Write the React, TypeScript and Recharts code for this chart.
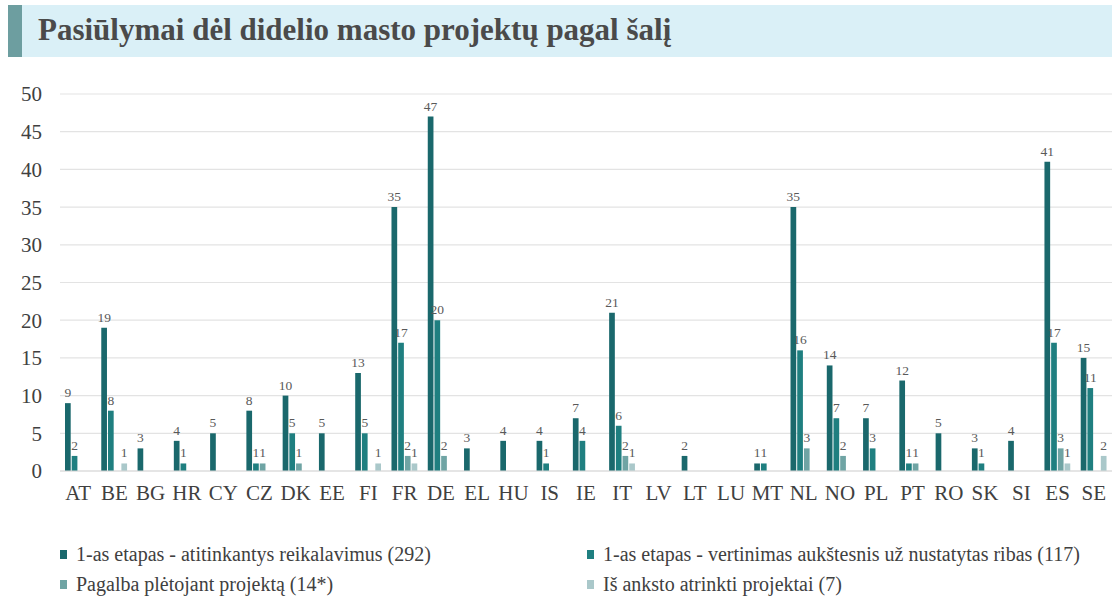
import React from "react";
import { BarChart, Bar, XAxis, YAxis, CartesianGrid, LabelList } from "recharts";

const countries = ["AT","BE","BG","HR","CY","CZ","DK","EE","FI","FR","DE","EL","HU","IS","IE","IT","LV","LT","LU","MT","NL","NO","PL","PT","RO","SK","SI","ES","SE"];
const stage1Eligible: (number | null)[] = [9,19,3,4,5,8,10,5,13,35,47,3,4,4,7,21,null,2,null,1,35,14,7,12,5,3,4,41,15];
const stage1Above: (number | null)[] = [2,8,null,1,null,1,5,null,5,17,20,null,null,1,4,6,null,null,null,1,16,7,3,1,null,1,null,17,11];
const devAssistance: (number | null)[] = [null,null,null,null,null,1,1,null,null,2,2,null,null,null,null,2,null,null,null,null,3,2,null,1,null,null,null,3,null];
const preSelected: (number | null)[] = [null,1,null,null,null,null,null,null,1,1,null,null,null,null,null,1,null,null,null,null,null,null,null,null,null,null,null,1,2];

const seriesNames = [
  "1-as etapas - atitinkantys reikalavimus (292)",
  "1-as etapas - vertinimas aukštesnis už nustatytas ribas (117)",
  "Pagalba plėtojant projektą (14*)",
  "Iš anksto atrinkti projektai (7)",
];
const seriesKeys = ["s1", "s2", "s3", "s4"];
const seriesColors = ["#1a686c", "#1f7f80", "#6fa4a4", "#aac8ca"];
const yTicks = [0, 5, 10, 15, 20, 25, 30, 35, 40, 45, 50];
const title = "Pasiūlymai dėl didelio masto projektų pagal šalį";

const data = countries.map((c, i) => ({
  name: c,
  s1: stage1Eligible[i],
  s2: stage1Above[i],
  s3: devAssistance[i],
  s4: preSelected[i],
}));

const FONT = "Liberation Serif";

export default function App() {
  return (
    <div style={{ position: "absolute", left: 0, top: 0, width: 1112, height: 599, background: "#fff", fontFamily: FONT, overflow: "hidden" }}>
      <div style={{ position: "absolute", left: 8, top: 5, width: 1104, height: 52, background: "#daf0f7" }}>
        <div style={{ position: "absolute", left: 0, top: 0, width: 14, height: 52, background: "#6d9ea0" }} />
        <div style={{ position: "absolute", left: 30, top: 7, fontSize: 31, fontWeight: 700, color: "#4a4a4a", whiteSpace: "nowrap", lineHeight: "36px", fontFamily: FONT }}>
          {title}
        </div>
      </div>
      <div style={{ position: "absolute", left: 0, top: 0 }}>
        <BarChart width={1112} height={510} data={data} margin={{ top: 94, right: 0, bottom: 9, left: 0 }} barGap={1} barSize={5.7}>
          <CartesianGrid vertical={false} stroke="#e3e3e3" strokeWidth={1.2} />
          <XAxis dataKey="name" height={30} tickLine={false} axisLine={{ stroke: "#d9d9d9", strokeWidth: 1.2 }} interval={0} tickMargin={8}
            tick={{ fontSize: 21, fill: "#404040", fontFamily: FONT }} />
          <YAxis width={60} domain={[0, 50]} ticks={yTicks} tickLine={false} axisLine={false} tickMargin={12}
            tick={{ fontSize: 21, fill: "#404040", fontFamily: FONT }} />
          {seriesKeys.map((k, i) => (
            <Bar key={k} dataKey={k} name={seriesNames[i]} fill={seriesColors[i]} isAnimationActive={false}>
              <LabelList dataKey={k} position="top" offset={6} fill="#595959" fontSize={13.5} fontFamily={FONT} />
            </Bar>
          ))}
        </BarChart>
      </div>
      {seriesNames.map((n, i) => {
        const col = i % 2;
        const row = Math.floor(i / 2);
        const left = col === 0 ? 60 : 587;
        const cy = row === 0 ? 554 : 584;
        return (
          <div key={n} style={{ position: "absolute", left, top: cy - 13, height: 26, display: "flex", alignItems: "center", whiteSpace: "nowrap" }}>
            <div style={{ width: 7, height: 9, background: seriesColors[i], marginRight: 9 }} />
            <span style={{ fontSize: 20, color: "#404040", fontFamily: FONT }}>{n}</span>
          </div>
        );
      })}
    </div>
  );
}
